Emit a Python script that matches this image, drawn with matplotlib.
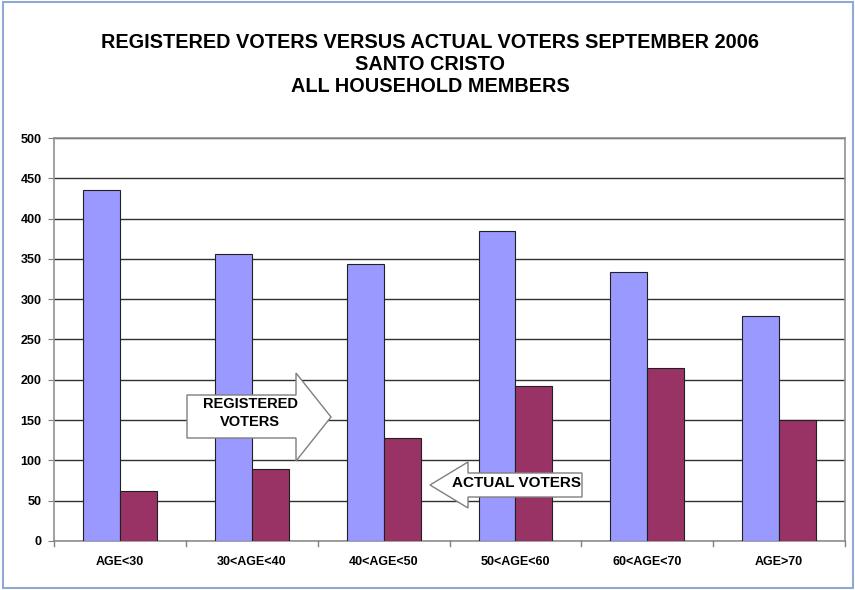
import matplotlib.pyplot as plt
import numpy as np
from matplotlib.patches import Polygon, Rectangle

plt.rcParams['font.family'] = ['Liberation Sans', 'DejaVu Sans']

# Data
categories = ['AGE<30', '30<AGE<40', '40<AGE<50', '50<AGE<60', '60<AGE<70', 'AGE>70']
registered = [436, 356, 344, 385, 334, 279]
actual = [62, 89, 128, 192, 215, 150]
title_lines = ['REGISTERED VOTERS VERSUS ACTUAL VOTERS SEPTEMBER 2006',
               'SANTO CRISTO', 'ALL HOUSEHOLD MEMBERS']

fig = plt.figure(figsize=(8.55, 5.9), dpi=100)
ax = fig.add_axes([0.0632, 0.0831, 0.9251, 0.6830])

x = np.arange(len(categories))
width = 0.28
ax.bar(x - width/2, registered, width, color='#9999FF', edgecolor='#202020', linewidth=0.8, zorder=3)
ax.bar(x + width/2, actual, width, color='#993366', edgecolor='#202020', linewidth=0.8, zorder=3)

ax.set_xlim(-0.5, len(categories) - 0.5)
ax.set_ylim(0, 500)
ax.set_yticks(range(0, 501, 50))
ax.yaxis.grid(True, color='#303030', linewidth=1.0, zorder=0)
ax.set_xticks(x)
ax.set_xticklabels(categories, fontsize=9, fontweight='bold')
ax.tick_params(axis='x', length=0, pad=11)
ax.tick_params(axis='y', labelsize=9, length=4, color='#808080', pad=5)
for lab in ax.get_yticklabels():
    lab.set_fontweight('bold')
# category separator ticks
for b in np.arange(-0.5, len(categories), 1.0):
    ax.plot([b, b], [0, -6], color='#808080', linewidth=1, clip_on=False, zorder=4)
for s in ax.spines.values():
    s.set_color('#909090')
    s.set_linewidth(1.2)

# Title
for i, t in enumerate(title_lines):
    fig.text(0.503, 1 - (42 + i * 22.5) / 590, t, ha='center', va='center',
             fontsize=14.3, fontweight='bold')

# Block arrows (in figure pixel coordinates)
W, H = 855, 590
def fig_poly(pts):
    return Polygon([(px / W, 1 - py / H) for px, py in pts], closed=True,
                   transform=fig.transFigure, facecolor='white',
                   edgecolor='#7f7f7f', linewidth=1.0, zorder=10)

reg_arrow = [(187, 395), (296, 395), (296, 373), (331, 417), (296, 461), (296, 438), (187, 438)]
act_arrow = [(582, 473), (468, 473), (468, 462), (430, 485), (468, 508), (468, 497), (582, 497)]
fig.patches.append(fig_poly(reg_arrow))
fig.patches.append(fig_poly(act_arrow))
fig.text(250 / W, 1 - 404 / H, 'REGISTERED', ha='center', va='center', fontsize=10.5, fontweight='bold', zorder=11)
fig.text(250 / W, 1 - 422 / H, 'VOTERS', ha='center', va='center', fontsize=10.5, fontweight='bold', zorder=11)
fig.text(516 / W, 1 - 483 / H, 'ACTUAL VOTERS', ha='center', va='center', fontsize=11, fontweight='bold', zorder=11)

# Outer frame
fig.patches.append(Rectangle((3 / W, 2 / H), 850 / W, 586 / H, transform=fig.transFigure,
                             fill=False, edgecolor='#8fa9d3', linewidth=1.5))

plt.savefig('out.png', dpi=100)
